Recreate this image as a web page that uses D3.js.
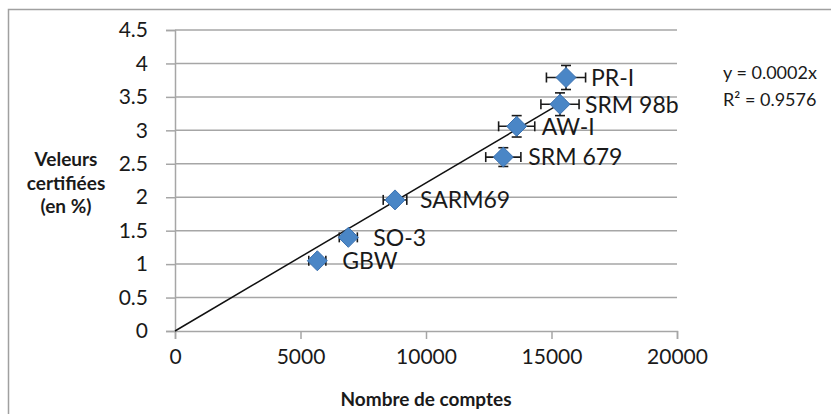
<!DOCTYPE html>
<html>
<head>
<meta charset="utf-8">
<script src="https://cdn.jsdelivr.net/npm/d3@7"></script>
<style>
  body { margin: 0; background: #fff; }
  svg text { font-family: Lato, "Open Sans", sans-serif; fill: #1a1a1a; }
</style>
</head>
<body>
<svg id="chart"></svg>
<script>
// data
var names = ["GBW", "SO-3", "SARM69", "SRM 679", "AW-I", "SRM 98b", "PR-I"];
var counts = [5670, 6905, 8765, 13080, 13613, 15338, 15578];
var values = [1.05, 1.40, 1.96, 2.60, 3.06, 3.39, 3.79];
var countErr = [340, 360, 470, 700, 720, 760, 780];
var valueErr = [0.04, 0.04, 0.05, 0.14, 0.16, 0.17, 0.18];
var xTicks = [0, 5000, 10000, 15000, 20000];
var yTicks = [0, 0.5, 1, 1.5, 2, 2.5, 3, 3.5, 4, 4.5];

var W = 831, H = 414;
var margin = { top: 30, right: 154, bottom: 83, left: 175 };

var svg = d3.select("#chart").attr("width", W).attr("height", H);

// chart frame (only top and left edges are visible)
svg.append("rect")
  .attr("x", 8.5).attr("y", 9.5)
  .attr("width", W + 20).attr("height", H + 20)
  .attr("fill", "none")
  .attr("stroke", "#a0a0a0")
  .attr("stroke-width", 1.5);

var x = d3.scaleLinear().domain([0, 20000]).range([margin.left, W - margin.right]);
var y = d3.scaleLinear().domain([0, 4.5]).range([H - margin.bottom, margin.top]);

var grid = "#a6a6a6";

// gridlines
svg.append("g")
  .selectAll("line")
  .data(yTicks.filter(function(d) { return d > 0; }))
  .enter()
  .append("line")
  .attr("x1", x(0)).attr("x2", x(20000))
  .attr("y1", function(d) { return y(d); })
  .attr("y2", function(d) { return y(d); })
  .attr("stroke", grid)
  .attr("stroke-width", 1.5);

var xAxis = svg.append("g")
  .attr("transform", "translate(0," + y(0) + ")")
  .call(d3.axisBottom(x).tickValues(xTicks).tickSize(8).tickPadding(10).tickFormat(d3.format("d")));

var yAxis = svg.append("g")
  .attr("transform", "translate(" + x(0) + ",0)")
  .call(d3.axisLeft(y).tickValues(yTicks).tickSize(9).tickPadding(18).tickFormat(function(d) { return String(d); }));

[xAxis, yAxis].forEach(function(g) {
  g.select(".domain").attr("stroke", grid).attr("stroke-width", 1.5);
  g.selectAll(".tick line").attr("stroke", grid).attr("stroke-width", 1.5);
  g.selectAll(".tick text").style("font-size", "21px").attr("fill", "#1a1a1a");
});

// linear trend through origin
var sxy = d3.sum(counts, function(c, i) { return c * values[i]; });
var sxx = d3.sum(counts, function(c) { return c * c; });
var slope = sxy / sxx;
var xMax = d3.max(counts);

svg.append("line")
  .attr("x1", x(0)).attr("y1", y(0))
  .attr("x2", x(xMax)).attr("y2", y(slope * xMax))
  .attr("stroke", "#111")
  .attr("stroke-width", 1.5);

var pts = names.map(function(n, i) {
  return { name: n, cx: counts[i], cy: values[i], ex: countErr[i], ey: valueErr[i] };
});

// error bars
var eb = svg.append("g").attr("stroke", "#1a1a1a").attr("stroke-width", 1.6);
pts.forEach(function(d) {
  var px = x(d.cx), py = y(d.cy);
  var x0 = x(d.cx - d.ex), x1 = x(d.cx + d.ex);
  var y0 = y(d.cy - d.ey), y1 = y(d.cy + d.ey);
  eb.append("line").attr("x1", x0).attr("x2", x1).attr("y1", py).attr("y2", py);
  eb.append("line").attr("x1", x0).attr("x2", x0).attr("y1", py - 5).attr("y2", py + 5);
  eb.append("line").attr("x1", x1).attr("x2", x1).attr("y1", py - 5).attr("y2", py + 5);
  eb.append("line").attr("x1", px).attr("x2", px).attr("y1", y0).attr("y2", y1);
  eb.append("line").attr("x1", px - 5).attr("x2", px + 5).attr("y1", y0).attr("y2", y0);
  eb.append("line").attr("x1", px - 5).attr("x2", px + 5).attr("y1", y1).attr("y2", y1);
});

// diamonds
var r = 10;
svg.append("g")
  .selectAll("path")
  .data(pts)
  .enter()
  .append("path")
  .attr("d", function(d) {
    var px = x(d.cx), py = y(d.cy);
    return "M" + px + "," + (py - r) + "L" + (px + r) + "," + py + "L" + px + "," + (py + r) + "L" + (px - r) + "," + py + "Z";
  })
  .attr("fill", "#4a86c6")
  .attr("stroke", "#3c72b0")
  .attr("stroke-width", 1);

// point labels
svg.append("g")
  .selectAll("text")
  .data(pts)
  .enter()
  .append("text")
  .attr("x", function(d) { return x(d.cx) + 25; })
  .attr("y", function(d) { return y(d.cy); })
  .attr("dy", "0.36em")
  .style("font-size", "23px")
  .text(function(d) { return d.name; });

// equation
svg.append("text")
  .attr("x", 723).attr("y", 79)
  .style("font-size", "18px")
  .text("y = 0.0002x");
svg.append("text")
  .attr("x", 723).attr("y", 106)
  .style("font-size", "18px")
  .text("R² = 0.9576");

// axis titles
svg.append("text")
  .attr("x", (x(0) + x(20000)) / 2)
  .attr("y", 406)
  .attr("text-anchor", "middle")
  .style("font-size", "19px")
  .style("font-weight", "bold")
  .text("Nombre de comptes");

var yt = svg.append("text")
  .attr("text-anchor", "middle")
  .style("font-size", "19px")
  .style("font-weight", "bold");
["Veleurs", "certifiées", "(en %)"].forEach(function(s, i) {
  yt.append("tspan").attr("x", 66).attr("y", 166 + i * 23.5).text(s);
});
</script>
</body>
</html>
